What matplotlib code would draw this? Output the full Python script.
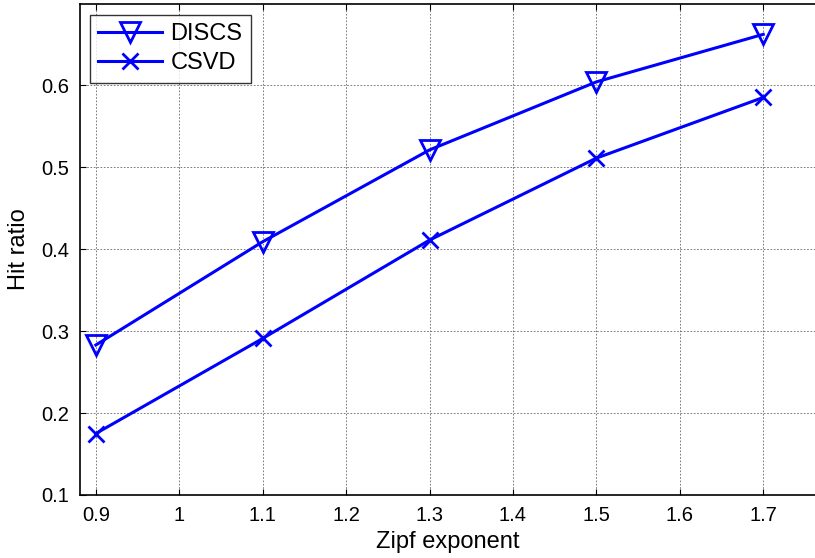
import matplotlib
matplotlib.use("Agg")
import matplotlib.pyplot as plt

# zipf exponent values and hit ratios
zipf = [0.9, 1.1, 1.3, 1.5, 1.7]
discs = [0.283, 0.409, 0.521, 0.604, 0.662]
csvd = [0.175, 0.291, 0.411, 0.511, 0.585]

xticks = [0.9, 1.0, 1.1, 1.2, 1.3, 1.4, 1.5, 1.6, 1.7]
xtick_labels = ["0.9", "1", "1.1", "1.2", "1.3", "1.4", "1.5", "1.6", "1.7"]
yticks = [0.1, 0.2, 0.3, 0.4, 0.5, 0.6]

plt.rcParams['font.family'] = ['Liberation Sans', 'DejaVu Sans']

fig = plt.figure(figsize=(8.15, 5.58), dpi=100)
ax = fig.add_axes([80 / 815, 1 - 495 / 558, 735 / 815, 491 / 558])

ax.plot(zipf, discs, color='#0000ff', lw=2.2, marker='v', ms=14,
        mfc='none', mec='#0000ff', mew=2.0, label='DISCS')
ax.plot(zipf, csvd, color='#0000ff', lw=2.2, marker='x', ms=11,
        mec='#0000ff', mew=2.0, label='CSVD')

ax.set_xlim(0.881, 1.762)
ax.set_ylim(0.1, 0.699)
ax.set_xticks(xticks)
ax.set_xticklabels(xtick_labels)
ax.set_yticks(yticks)
ax.tick_params(direction='in', length=4, labelsize=14.5, pad=8, top=True)
ax.grid(True, color='#666666', linestyle=(0, (2, 2)), linewidth=0.6)
ax.spines['right'].set_visible(False)
for s in ['left', 'bottom', 'top']:
    ax.spines[s].set_linewidth(1.2)

ax.set_xlabel("Zipf exponent", fontsize=17, labelpad=4)
ax.set_ylabel("Hit ratio", fontsize=17, labelpad=8)

leg = ax.legend(loc='upper left', bbox_to_anchor=(10 / 735, 1 - 11 / 491),
                fontsize=17, frameon=True, fancybox=False, handlelength=2.7,
                borderaxespad=0, borderpad=0.35, labelspacing=0.3, handletextpad=0.35)
leg.get_frame().set_edgecolor('black')
leg.get_frame().set_linewidth(1.0)

fig.savefig("out.png", dpi=100)
